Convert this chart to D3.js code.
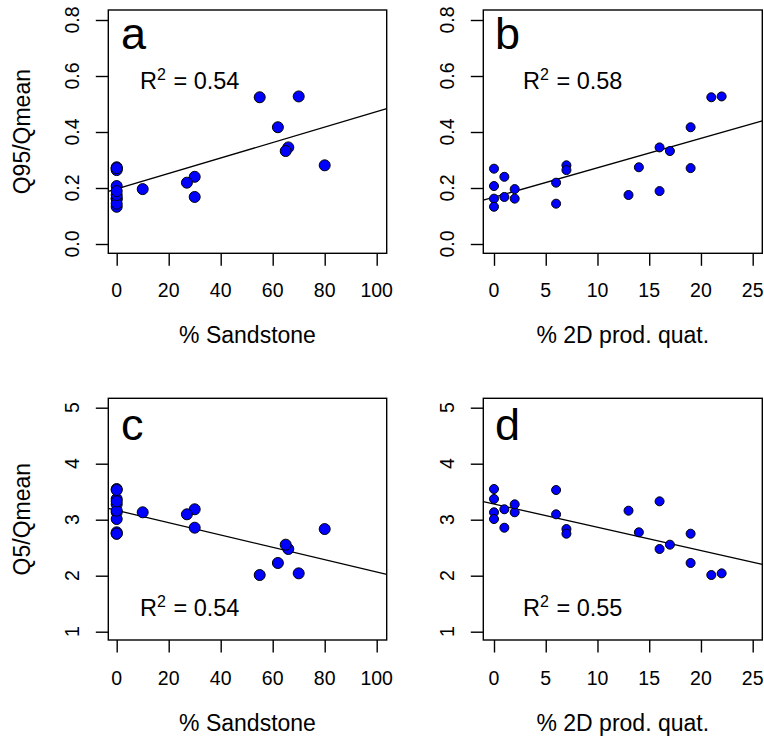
<!DOCTYPE html>
<html><head><meta charset="utf-8">
<script src="https://cdn.jsdelivr.net/npm/d3@7"></script>
<style>
html,body{margin:0;padding:0;background:#fff;}
svg text{font-family:"Liberation Sans",Arial,Helvetica,sans-serif;fill:#000;}
</style></head>
<body>
<svg id="chart" width="764" height="739"></svg>
<script>
// ---- data (one entry per station) ----
const sandstone = [0,0,0,0,30,30,10,0,27,0,80,0,0,0,66,0,65,62,0,55,70];
const prodQuat  = [0,0,0,0,1,1,2,2,6,6,7,7,13,14,16,16,17,19,19,21,22];
const q95 = [0.269,0.207,0.162,0.133,0.240,0.168,0.196,0.162,0.219,0.144,0.281,0.264,0.175,0.274,0.345,0.189,0.332,0.417,0.271,0.524,0.527];
const q5  = [3.548,3.370,3.132,3.012,3.186,2.857,3.132,3.274,3.096,3.530,2.833,2.750,3.161,2.775,2.477,3.328,2.554,2.227,2.750,2.012,2.042];

const ticksSandstone = [0,20,40,60,80,100];
const ticksProdQuat = [0,5,10,15,20,25];
const ticksQ95 = [0.0,0.2,0.4,0.6,0.8];
const ticksQ5 = [1,2,3,4,5];
const panelLetters = ["a","b","c","d"];
const r2Labels = ["0.54","0.58","0.54","0.55"];
const xTitles = ["% Sandstone","% 2D prod. quat."];
const yTitles = ["Q95/Qmean","Q5/Qmean"];

const svg = d3.select("#chart");
svg.append("rect").attr("width",764).attr("height",739).attr("fill","#fff");

// layout
const cols = [
  {box:[108.3,386.7], x0:116.7, x1:376.7, dom:[0,100], xv:sandstone, ticks:ticksSandstone, r:6.0, tickLblX:79, title:xTitles[0], cx:247.5, letterX:121, r2X:140},
  {box:[483.3,762.3], x0:494, x1:752.7, dom:[0,25], xv:prodQuat, ticks:ticksProdQuat, r:5.0, tickLblX:454, title:xTitles[1], cx:622.8, letterX:495, r2X:523}
];
const rows = [
  {box:[10,253.3], y0:244, y1:20, dom:[0,0.8], yv:q95, ticks:ticksQ95, fmt:d3.format(".1f"), title:yTitles[0], xTickLblY:297, xTitleY:343, letterY:49, r2Y:89},
  {box:[398.3,640], y0:631.7, y1:407.7, dom:[1,5], yv:q5, ticks:ticksQ5, fmt:d3.format("d"), title:yTitles[1], xTickLblY:685, xTitleY:731, letterY:440, r2Y:616}
];

function fit(xs, ys){
  const mx=d3.mean(xs), my=d3.mean(ys);
  let sxy=0,sxx=0;
  xs.forEach((x,i)=>{sxy+=(x-mx)*(ys[i]-my); sxx+=(x-mx)*(x-mx);});
  const b=sxy/sxx; return {a:my-b*mx, b:b};
}

let k=0;
rows.forEach((row,ri)=>{
  cols.forEach((col,ci)=>{
    const x = d3.scaleLinear().domain(col.dom).range([col.x0,col.x1]);
    const y = d3.scaleLinear().domain(row.dom).range([row.y0,row.y1]);
    const [L,R]=col.box, [T,B]=row.box;
    const g = svg.append("g");
    const clipId = "clip"+k;
    g.append("clipPath").attr("id",clipId).append("rect").attr("x",L).attr("y",T).attr("width",R-L).attr("height",B-T);

    // regression line
    const f = fit(col.xv,row.yv);
    const xl = x.invert(L), xr = x.invert(R);
    g.append("line").attr("clip-path",`url(#${clipId})`)
      .attr("x1",x(xl)).attr("y1",y(f.a+f.b*xl))
      .attr("x2",x(xr)).attr("y2",y(f.a+f.b*xr))
      .attr("stroke","#000").attr("stroke-width",1.3);

    // points
    g.selectAll("circle").data(col.xv.map((v,i)=>[v,row.yv[i]])).join("circle")
      .attr("cx",d=>x(d[0])).attr("cy",d=>y(d[1])).attr("r",col.r-0.5)
      .attr("fill","#0000ff").attr("stroke","#000").attr("stroke-width",1);

    // box
    g.append("rect").attr("x",L).attr("y",T).attr("width",R-L).attr("height",B-T)
      .attr("fill","none").attr("stroke","#000").attr("stroke-width",1.4);

    // x axis
    const xa = d3.axisBottom(x).tickValues(col.ticks).tickSize(12.5).tickFormat(d3.format("d"));
    const gx = g.append("g").attr("transform",`translate(0,${B})`).call(xa);
    gx.select(".domain").remove();
    gx.selectAll(".tick line").attr("stroke","#000").attr("stroke-width",1.4);
    gx.selectAll(".tick text").remove();
    g.selectAll(".xlbl").data(col.ticks).join("text")
      .attr("x",d=>x(d)).attr("y",row.xTickLblY).attr("text-anchor","middle")
      .attr("font-size",19.5).text(d=>d);

    // y axis
    const ya = d3.axisLeft(y).tickValues(row.ticks).tickSize(12.5);
    const gy = g.append("g").attr("transform",`translate(${L},0)`).call(ya);
    gy.select(".domain").remove();
    gy.selectAll(".tick line").attr("stroke","#000").attr("stroke-width",1.4);
    gy.selectAll(".tick text").remove();
    g.selectAll(".ylbl").data(row.ticks).join("text")
      .attr("transform",d=>`translate(${col.tickLblX},${y(d)}) rotate(-90)`)
      .attr("text-anchor","middle").attr("font-size",19.5).text(d=>row.fmt(d));

    // x title
    g.append("text").attr("x",col.cx).attr("y",row.xTitleY).attr("text-anchor","middle")
      .attr("font-size",23).text(col.title);
    // y title (left column only)
    if(ci===0){
      g.append("text").attr("transform",`translate(30,${(T+B)/2}) rotate(-90)`)
        .attr("text-anchor","middle").attr("font-size",23).text(row.title);
    }
    // panel letter
    g.append("text").attr("x",col.letterX).attr("y",row.letterY).attr("font-size",45).text(panelLetters[k]);
    // R^2
    const t = g.append("text").attr("x",col.r2X).attr("y",row.r2Y).attr("font-size",23.5);
    t.append("tspan").text("R");
    t.append("tspan").attr("font-size",16).attr("dy",-9).text("2");
    t.append("tspan").attr("dy",9).attr("dx",1).text(" = "+r2Labels[k]);
    k++;
  });
});
</script>
</body></html>
